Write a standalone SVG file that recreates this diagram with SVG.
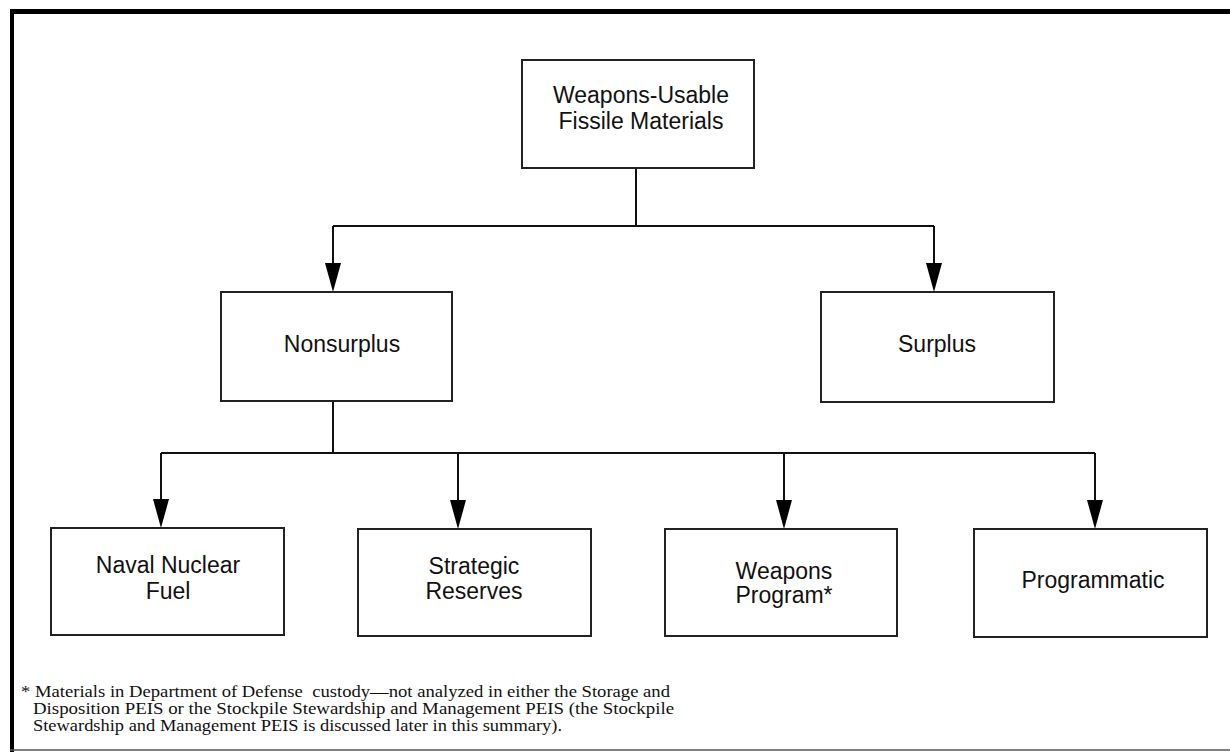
<svg xmlns="http://www.w3.org/2000/svg" width="1230" height="752" viewBox="0 0 1230 752">
  <defs>
    <style>
      .box { fill: #fff; stroke: #222; stroke-width: 2; }
      .lbl { font-family: "Liberation Sans", Arial, sans-serif; font-size: 23px; fill: #111; text-anchor: middle; }
      .conn { fill: none; stroke: #111; stroke-width: 2; }
      .head { fill: #000; }
      .note { font-family: "Liberation Serif", "Times New Roman", serif; font-size: 16.5px; fill: #111; white-space: pre; }
    </style>
  </defs>

  <rect width="1230" height="752" fill="#fff"/>

  <!-- page frame -->
  <g id="frame">
    <rect x="10" y="9" width="1220" height="5" fill="#000"/>
    <rect x="10" y="9" width="4" height="743" fill="#000"/>
    <line x1="10" y1="750" x2="1230" y2="750" stroke="#555" stroke-width="1.5"/>
  </g>

  <!-- connectors: trunk lines, drops and filled arrowheads -->
  <g id="connectors">
    <path class="conn" d="M636,168 V226 M333,226 H934 M333,401 V453 M161,453 H1095"/>
    <path class="conn" d="M333,226 V266 M934,226 V266 M161,453 V502 M458,453 V502 M784,453 V502 M1095,453 V502"/>
    <path class="head" d="M325,263 L341,263 L333,292 Z"/>
    <path class="head" d="M926,263 L942,263 L934,292 Z"/>
    <path class="head" d="M153,499 L169,499 L161,528 Z"/>
    <path class="head" d="M450,500 L466,500 L458,529 Z"/>
    <path class="head" d="M776,500 L792,500 L784,529 Z"/>
    <path class="head" d="M1087,500 L1103,500 L1095,529 Z"/>
  </g>

  <g id="node-root">
    <rect class="box" x="522" y="60" width="232" height="108"/>
    <text class="lbl" x="641" y="103">Weapons-Usable</text>
    <text class="lbl" x="641" y="129">Fissile Materials</text>
  </g>

  <g id="node-nonsurplus">
    <rect class="box" x="221" y="292" width="231" height="109"/>
    <text class="lbl" x="342" y="352">Nonsurplus</text>
  </g>

  <g id="node-surplus">
    <rect class="box" x="821" y="292" width="233" height="110"/>
    <text class="lbl" x="937" y="352">Surplus</text>
  </g>

  <g id="node-naval">
    <rect class="box" x="51" y="528" width="233" height="107"/>
    <text class="lbl" x="168" y="573">Naval Nuclear</text>
    <text class="lbl" x="168" y="599">Fuel</text>
  </g>

  <g id="node-strategic">
    <rect class="box" x="358" y="529" width="233" height="107"/>
    <text class="lbl" x="474" y="574">Strategic</text>
    <text class="lbl" x="474" y="599">Reserves</text>
  </g>

  <g id="node-weapons">
    <rect class="box" x="665" y="529" width="232" height="107"/>
    <text class="lbl" x="784" y="579">Weapons</text>
    <text class="lbl" x="784" y="603">Program*</text>
  </g>

  <g id="node-programmatic">
    <rect class="box" x="974" y="529" width="233" height="108"/>
    <text class="lbl" x="1093" y="588">Programmatic</text>
  </g>

  <!-- footnote -->
  <g id="footnote">
    <text class="note" x="21" y="697" textLength="649" lengthAdjust="spacingAndGlyphs">* Materials in Department of Defense  custody—not analyzed in either the Storage and</text>
    <text class="note" x="33" y="714" textLength="641" lengthAdjust="spacingAndGlyphs">Disposition PEIS or the Stockpile Stewardship and Management PEIS (the Stockpile</text>
    <text class="note" x="33" y="731" textLength="529" lengthAdjust="spacingAndGlyphs">Stewardship and Management PEIS is discussed later in this summary).</text>
  </g>
</svg>
